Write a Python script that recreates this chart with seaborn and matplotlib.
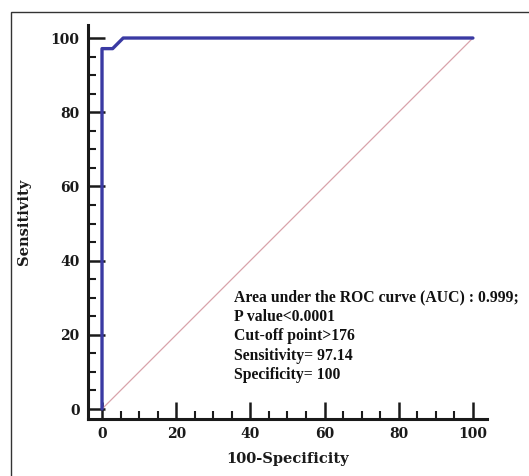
import pandas as pd
import matplotlib.pyplot as plt
import seaborn as sns
from matplotlib.ticker import MultipleLocator
from matplotlib.patches import Rectangle

# ROC points
fpr = [0, 0, 2.86, 5.71, 100]
tpr = [0, 97.14, 97.14, 100, 100]
diag = [0, 100]
stats_lines = [
    "Area under the ROC curve (AUC) : 0.999;",
    "P value<0.0001",
    "Cut-off point>176",
    "Sensitivity= 97.14",
    "Specificity= 100",
]

sns.set_theme(style="ticks")
plt.rcParams['font.family'] = ['DejaVu Serif']

fig = plt.figure(figsize=(5.29, 4.76), dpi=100)
ax = fig.add_axes([0.1664, 0.1197, 0.754, 0.8277])

df_roc = pd.DataFrame({'fpr': fpr, 'tpr': tpr})
df_diag = pd.DataFrame({'x': diag, 'y': diag})
sns.lineplot(data=df_diag, x='x', y='y', ax=ax, color='#d9a3ab', linewidth=0.9,
             sort=False, estimator=None)
sns.lineplot(data=df_roc, x='fpr', y='tpr', ax=ax, color='#3a3aa3', linewidth=2.4,
             sort=False, estimator=None)

ax.set_xlim(-3.77, 103.77)
ax.set_ylim(-2.7, 103.5)
ax.xaxis.set_major_locator(MultipleLocator(20))
ax.xaxis.set_minor_locator(MultipleLocator(5))
ax.yaxis.set_major_locator(MultipleLocator(20))
ax.yaxis.set_minor_locator(MultipleLocator(5))

for side in ['top', 'right']:
    ax.spines[side].set_visible(False)
for side in ['left', 'bottom']:
    ax.spines[side].set_linewidth(2.2)
    ax.spines[side].set_color('#1a1a1a')

ax.tick_params(which='major', direction='in', length=12, width=1.8, color='#1a1a1a', pad=6)
ax.tick_params(which='minor', direction='in', length=6, width=1.5, color='#1a1a1a')
for lab in ax.get_xticklabels() + ax.get_yticklabels():
    lab.set_fontweight('bold')
    lab.set_fontsize(10)
    lab.set_color('#1a1a1a')

ax.set_xlabel('100-Specificity', fontsize=10.5, fontweight='bold', color='#1a1a1a', labelpad=8)
ax.set_ylabel('Sensitivity', fontsize=10.5, fontweight='bold', color='#1a1a1a', labelpad=14)

ax.text(0.366, 0.21, "\n".join(stats_lines), transform=ax.transAxes,
        family='Liberation Serif', fontweight='bold', fontsize=11.3, color='#111111',
        linespacing=1.3, va='center', ha='left')

fig.patches.append(Rectangle((11 / 529, -0.1), 1.2, 1 - 12 / 476 + 0.1, transform=fig.transFigure,
                             fill=False, edgecolor='#333333', linewidth=1.0))

fig.savefig("out.png", dpi=100)
plt.close(fig)
